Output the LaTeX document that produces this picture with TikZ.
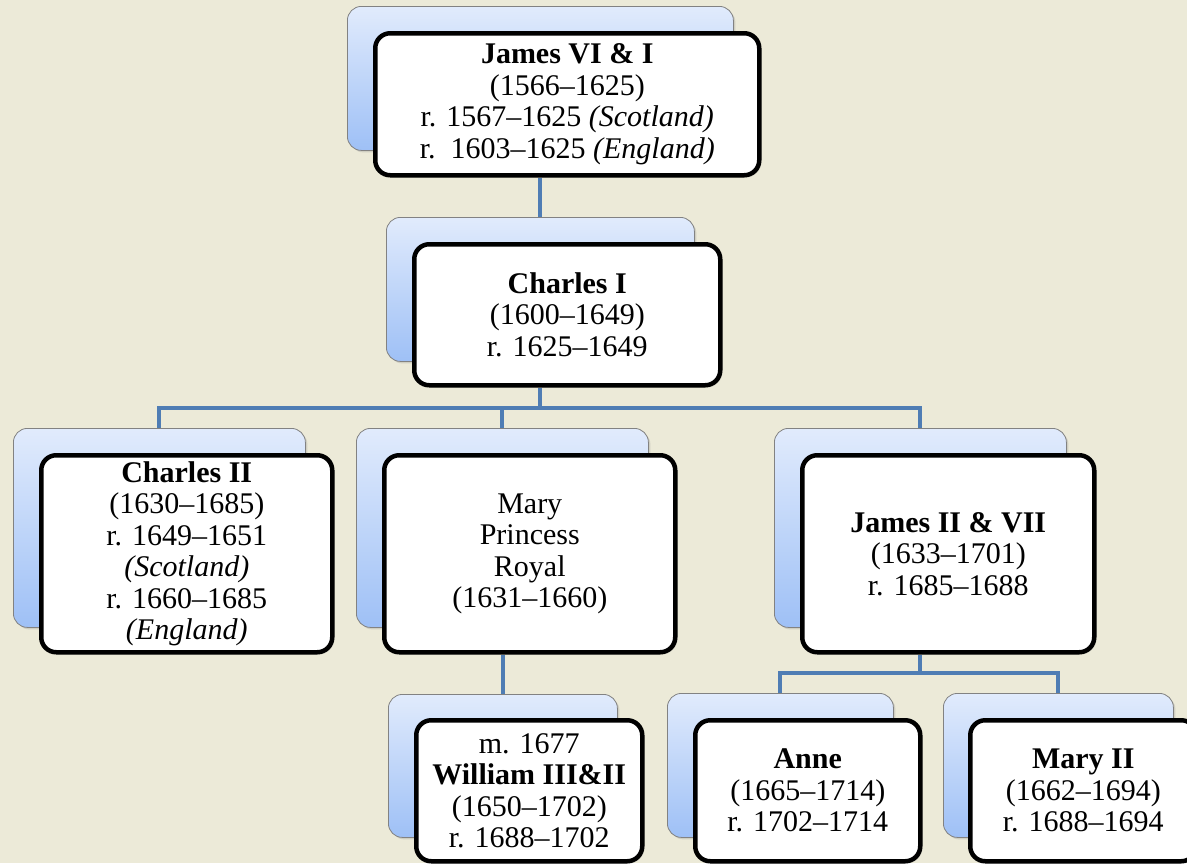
\documentclass[tikz,border=0pt]{standalone}
\usepackage{fontspec}
\setmainfont{Liberation Serif}
\usetikzlibrary{shadows}
\definecolor{bgc}{RGB}{236,234,216}
\definecolor{conncol}{RGB}{79,125,180}
\definecolor{backtop}{RGB}{225,235,252}
\definecolor{backbot}{RGB}{158,192,246}
\definecolor{backedge}{RGB}{130,130,130}
\pgfdeclarelayer{bglayer}
\pgfdeclarelayer{connlayer}
\pgfsetlayers{bglayer,connlayer,main}
\begin{document}
\begin{tikzpicture}[x=1pt,y=-1pt,
  backbox/.style={draw=backedge, line width=0.8pt, rounded corners=14pt,
    top color=backtop, bottom color=backbot, anchor=north west, inner sep=0pt,
    drop shadow={shadow xshift=2pt,shadow yshift=-2pt,opacity=0.25}},
  frontbox/.style={draw=black, line width=4.5pt, rounded corners=15pt, fill=white,
    anchor=north west, inner sep=0pt, align=center,
    font=\fontsize{30}{31.5}\selectfont,
    drop shadow={shadow xshift=2pt,shadow yshift=-2pt,opacity=0.25}},
  conn/.style={draw=conncol, line width=4pt}]
\begin{pgfonlayer}{bglayer}
  \fill[bgc] (0,0) rectangle (1187,863);
\end{pgfonlayer}
\useasboundingbox (0,0) rectangle (1187,863);

% James VI & I
\node[backbox, minimum width=386pt, minimum height=144pt] (jB) at (347,6) {};
\node[frontbox, minimum width=384pt, minimum height=142pt] (jF) at (373,31)
  {\textbf{James VI \& I}\\(1566–1625)\\r. 1567–1625 \textit{(Scotland)}\\r.\ \ 1603–1625 \textit{(England)}};

% Charles I
\node[backbox, minimum width=308pt, minimum height=144pt] (c1B) at (386,217) {};
\node[frontbox, minimum width=306pt, minimum height=141pt] (c1F) at (412,242)
  {\textbf{Charles I}\\(1600–1649)\\r. 1625–1649};

% Charles II
\node[backbox, minimum width=292pt, minimum height=199pt] (c2B) at (13,428) {};
\node[frontbox, minimum width=291pt, minimum height=197pt] (c2F) at (39,453)
  {\textbf{Charles II}\\(1630–1685)\\r. 1649–1651\\\textit{(Scotland)}\\r. 1660–1685\\\textit{(England)}};

% Mary Princess Royal
\node[backbox, minimum width=292pt, minimum height=199pt] (mB) at (356,428) {};
\node[frontbox, minimum width=291pt, minimum height=197pt] (mF) at (382,453)
  {Mary\\Princess\\Royal\\(1631–1660)};

% James II & VII
\node[backbox, minimum width=292pt, minimum height=199pt] (j2B) at (774,428) {};
\node[frontbox, minimum width=292pt, minimum height=197pt] (j2F) at (800,453)
  {\textbf{James II \& VII}\\(1633–1701)\\r. 1685–1688};

% William III & II
\node[backbox, minimum width=229pt, minimum height=143pt] (wB) at (388,694) {};
\node[frontbox, minimum width=226pt, minimum height=141pt] (wF) at (414,718)
  {m. 1677\\\textbf{William III\&II}\\(1650–1702)\\r. 1688–1702};

% Anne
\node[backbox, minimum width=226pt, minimum height=144pt] (aB) at (667,693) {};
\node[frontbox, minimum width=225pt, minimum height=141pt] (aF) at (693,718)
  {\textbf{Anne}\\(1665–1714)\\r. 1702–1714};

% Mary II
\node[backbox, minimum width=230pt, minimum height=144pt] (m2B) at (943,693) {};
\node[frontbox, minimum width=226pt, minimum height=141pt] (m2F) at (968,718)
  {\textbf{Mary II}\\(1662–1694)\\r. 1688–1694};

\coordinate (lvl1) at (0,408);
\coordinate (lvl2) at (0,673);
\coordinate (bus1) at (c1B.north |- lvl1);
\coordinate (bus2) at (j2B.north |- lvl2);

\begin{pgfonlayer}{connlayer}
  \draw[conn] (c1B.north |- jF.south) -- (c1B.north);
  \draw[conn] (c1B.south |- c1F.south) -- (bus1);
  \draw[conn] (c2B.north) |- (bus1) -| (j2B.north);
  \draw[conn] (mB.north) -- (mB.north |- bus1);
  \draw[conn] (wB.north |- mF.south) -- (wB.north);
  \draw[conn] (j2B.south |- j2F.south) -- (bus2);
  \draw[conn] (aB.north) |- (bus2) -| (m2B.north);
\end{pgfonlayer}
\end{tikzpicture}
\end{document}
